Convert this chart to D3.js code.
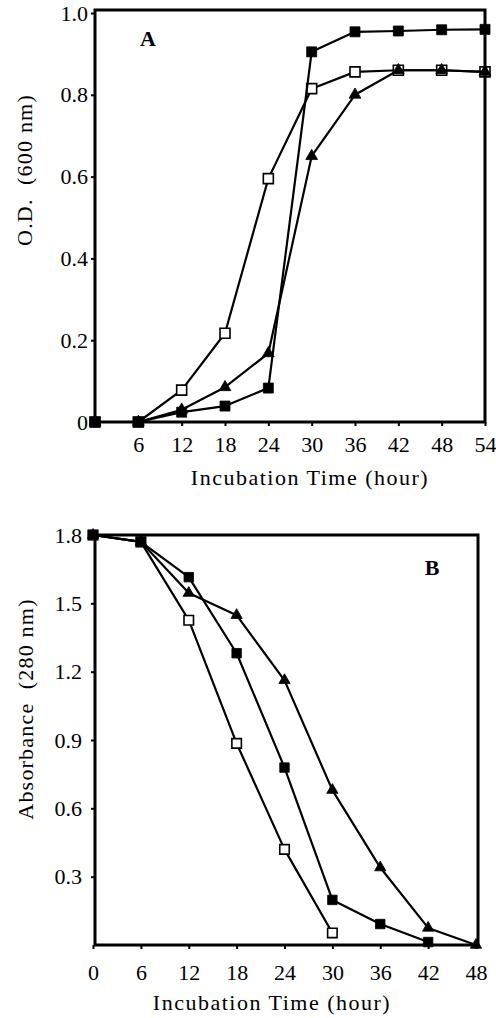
<!DOCTYPE html>
<html>
<head>
<meta charset="utf-8">
<script src="https://cdn.jsdelivr.net/npm/d3@7"></script>
<style>
  body { margin: 0; background: #fff; }
  svg { display: block; }
</style>
</head>
<body>
<svg id="chart" width="496" height="1018"></svg>
<script>
// Panel A: growth (O.D. 600 nm)
const hoursA = [0, 6, 12, 18, 24, 30, 36, 42, 48, 54];
const odOpen = [0, 0, 0.078, 0.217, 0.595, 0.815, 0.856, 0.86, 0.86, 0.856];
const odTriangle = [0, 0, 0.03, 0.085, 0.168, 0.65, 0.80, 0.86, 0.86, 0.856];
const odFilled = [0, 0, 0.024, 0.039, 0.083, 0.905, 0.954, 0.956, 0.959, 0.96];
const xTicksA = [6, 12, 18, 24, 30, 36, 42, 48, 54];
const yTicksA = [0, 0.2, 0.4, 0.6, 0.8, 1.0];

// Panel B: absorbance (280 nm)
const hoursB = [0, 6, 12, 18, 24, 30, 36, 42, 48];
const absOpen = [1.8, 1.77, 1.426, 0.885, 0.42, 0.053];
const absFilled = [1.8, 1.77, 1.615, 1.281, 0.779, 0.198, 0.092, 0.013];
const absTriangle = [1.8, 1.77, 1.545, 1.448, 1.162, 0.68, 0.34, 0.075, 0];
const xTicksB = [0, 6, 12, 18, 24, 30, 36, 42, 48];
const yTicksB = [0.3, 0.6, 0.9, 1.2, 1.5, 1.8];

const FONT = "'Liberation Serif', 'Times New Roman', serif";
const svg = d3.select("#chart");

function drawPanel(p) {
  const g = svg.append("g");

  // series lines + markers
  p.series.forEach(s => {
    const pts = s.values.map((v, i) => [p.hours[i], v]);
    g.append("path")
      .datum(pts)
      .attr("fill", "none")
      .attr("stroke", "#000")
      .attr("stroke-width", 2.2)
      .attr("stroke-linejoin", "round")
      .attr("d", d3.line().x(d => p.x(d[0])).y(d => p.y(d[1])));

    const sym = d3.symbol()
      .type(s.shape === "triangle" ? d3.symbolTriangle : d3.symbolSquare)
      .size(s.shape === "triangle" ? p.triSize : p.sqSize);

    g.selectAll(null)
      .data(pts)
      .enter().append("path")
      .attr("transform", d => `translate(${p.x(d[0])},${p.y(d[1])})`)
      .attr("d", sym)
      .attr("fill", s.open ? "#fff" : "#000")
      .attr("stroke", "#000")
      .attr("stroke-width", s.open ? 1.6 : 0.8);
  });

  // frame
  g.append("rect")
    .attr("x", p.frame.left)
    .attr("y", p.frame.top)
    .attr("width", p.frame.right - p.frame.left)
    .attr("height", p.frame.bottom - p.frame.top)
    .attr("fill", "none")
    .attr("stroke", "#000")
    .attr("stroke-width", 3);

  // x axis
  g.append("g")
    .attr("transform", `translate(0,${p.frame.bottom})`)
    .call(d3.axisBottom(p.x).tickValues(p.xTicks).tickSize(4).tickPadding(p.xPad).tickFormat(d3.format("d")))
    .call(a => a.select(".domain").remove())
    .attr("font-family", FONT)
    .attr("font-size", 22);

  // y axis
  g.append("g")
    .attr("transform", `translate(${p.frame.left},0)`)
    .call(d3.axisLeft(p.y).tickValues(p.yTicks).tickSize(4).tickPadding(p.yPad)
      .tickFormat(d => d === 0 ? "0" : d3.format(".1f")(d)))
    .call(a => a.select(".domain").remove())
    .attr("font-family", FONT)
    .attr("font-size", 22);

  g.selectAll(".tick line").attr("stroke-width", 2);
  g.selectAll(".tick text").attr("fill", "#000");

  // titles
  g.append("text")
    .attr("x", p.xTitle[0]).attr("y", p.xTitle[1])
    .attr("text-anchor", "middle")
    .attr("font-family", FONT).attr("font-size", 22)
    .attr("letter-spacing", 1.5)
    .text("Incubation Time (hour)");

  g.append("text")
    .attr("transform", `translate(${p.yTitle[0]},${p.yTitle[1]}) rotate(-90)`)
    .attr("text-anchor", "middle")
    .attr("dominant-baseline", "central")
    .attr("font-family", FONT).attr("font-size", 22)
    .attr("letter-spacing", 1.2)
    .attr("xml:space", "preserve")
    .text(p.yLabel);

  g.append("text")
    .attr("x", p.tag[0]).attr("y", p.tag[1])
    .attr("text-anchor", "middle")
    .attr("font-family", FONT).attr("font-size", 22)
    .attr("font-weight", "bold")
    .text(p.tagText);
}

drawPanel({
  hours: hoursA,
  x: d3.scaleLinear().domain([0, 54]).range([95, 485]),
  y: d3.scaleLinear().domain([0, 1]).range([422, 13]),
  frame: { left: 95, right: 485, top: 10, bottom: 422 },
  xTicks: xTicksA, yTicks: yTicksA,
  xPad: 10, yPad: 3,
  sqSize: 100, triSize: 60,
  series: [
    { values: odOpen, shape: "square", open: true },
    { values: odTriangle, shape: "triangle", open: false },
    { values: odFilled, shape: "square", open: false }
  ],
  xTitle: [310, 485],
  yTitle: [24, 170],
  yLabel: "O.D.  (600 nm)",
  tag: [148, 46], tagText: "A"
});

drawPanel({
  hours: hoursB,
  x: d3.scaleLinear().domain([0, 48]).range([93, 476]),
  y: d3.scaleLinear().domain([0, 1.8]).range([945, 535]),
  frame: { left: 95, right: 478, top: 535, bottom: 945 },
  xTicks: xTicksB, yTicks: yTicksB,
  xPad: 15, yPad: 9,
  sqSize: 90, triSize: 55,
  series: [
    { values: absOpen, shape: "square", open: true },
    { values: absTriangle, shape: "triangle", open: false },
    { values: absFilled, shape: "square", open: false }
  ],
  xTitle: [272, 1010],
  yTitle: [25, 709],
  yLabel: "Absorbance  (280 nm)",
  tag: [432, 575], tagText: "B"
});
</script>
</body>
</html>
